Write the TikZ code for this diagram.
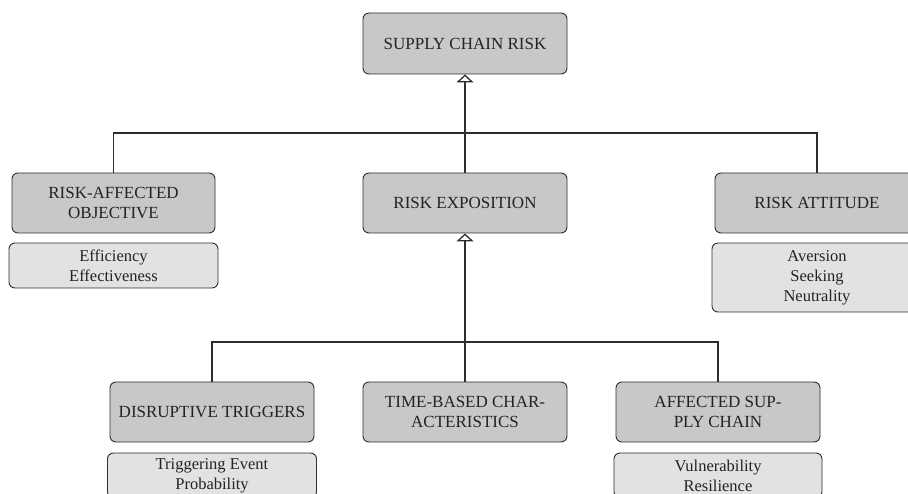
\documentclass[tikz,border=0pt]{standalone}
\usepackage{fontspec}
\setmainfont{Liberation Serif}
\usetikzlibrary{arrows.meta}
\definecolor{boxdark}{RGB}{200,200,201}
\definecolor{boxlight}{RGB}{226,226,228}
\definecolor{linec}{RGB}{45,45,45}
\definecolor{textc}{RGB}{35,35,35}
\tikzset{
  catbox/.style={draw=linec, fill=boxdark, rounded corners=6pt, line width=0.9pt,
    minimum width=204pt, minimum height=60pt, align=center, text=textc,
    font=\fontsize{17}{20}\selectfont, inner sep=0pt},
  valbox/.style={draw=linec, fill=boxlight, rounded corners=6pt, line width=0.9pt,
    minimum width=209pt, align=center, text=textc,
    font=\fontsize{16.5}{20}\selectfont, inner sep=0pt},
  conn/.style={draw=linec, line width=1.2pt},
  gen/.style={conn, -{Triangle[open, width=17pt, length=8pt, line width=1.3pt]}}
}
\begin{document}
\begin{tikzpicture}[x=1pt, y=-1pt]
\useasboundingbox (0,0) rectangle (908,494);
\clip (0,0) rectangle (908,494);
\node[catbox, minimum height=61pt] (top) at (465,43.5) {SUPPLY CHAIN RISK};
\node[catbox, minimum width=203pt] (rao) at (113.5,203) {RISK-AFFECTED\\OBJECTIVE};
\node[catbox] (expo) at (465,203) {RISK EXPOSITION};
\node[catbox] (att) at (817,203) {RISK ATTITUDE};
\node[valbox, minimum height=45pt] (eff) at (113.5,265.5) {Efficiency\\Effectiveness};
\node[valbox, minimum height=69pt, minimum width=210pt] (avr) at (817,277.5) {Aversion\\Seeking\\Neutrality};
\node[catbox] (dis) at (212,412) {DISRUPTIVE TRIGGERS};
\node[catbox] (time) at (465,412) {TIME-BASED CHAR-\\ACTERISTICS};
\node[catbox] (aff) at (718,412) {AFFECTED SUP-\\PLY CHAIN};
\node[valbox, minimum height=45pt] (trg) at (212,475.5) {Triggering Event\\Probability};
\node[valbox, minimum height=45pt, minimum width=208pt] (vul) at (718,475.5) {Vulnerability\\Resilience};
\coordinate (h1) at (465,133);
\coordinate (h2) at (465,342);
\draw[conn] (rao.north) |- (h1) -| (att.north);
\draw[gen] (expo.north) -- (top.south);
\draw[conn] (dis.north) |- (h2) -| (aff.north);
\draw[gen] (time.north) -- (expo.south);
\end{tikzpicture}
\end{document}
